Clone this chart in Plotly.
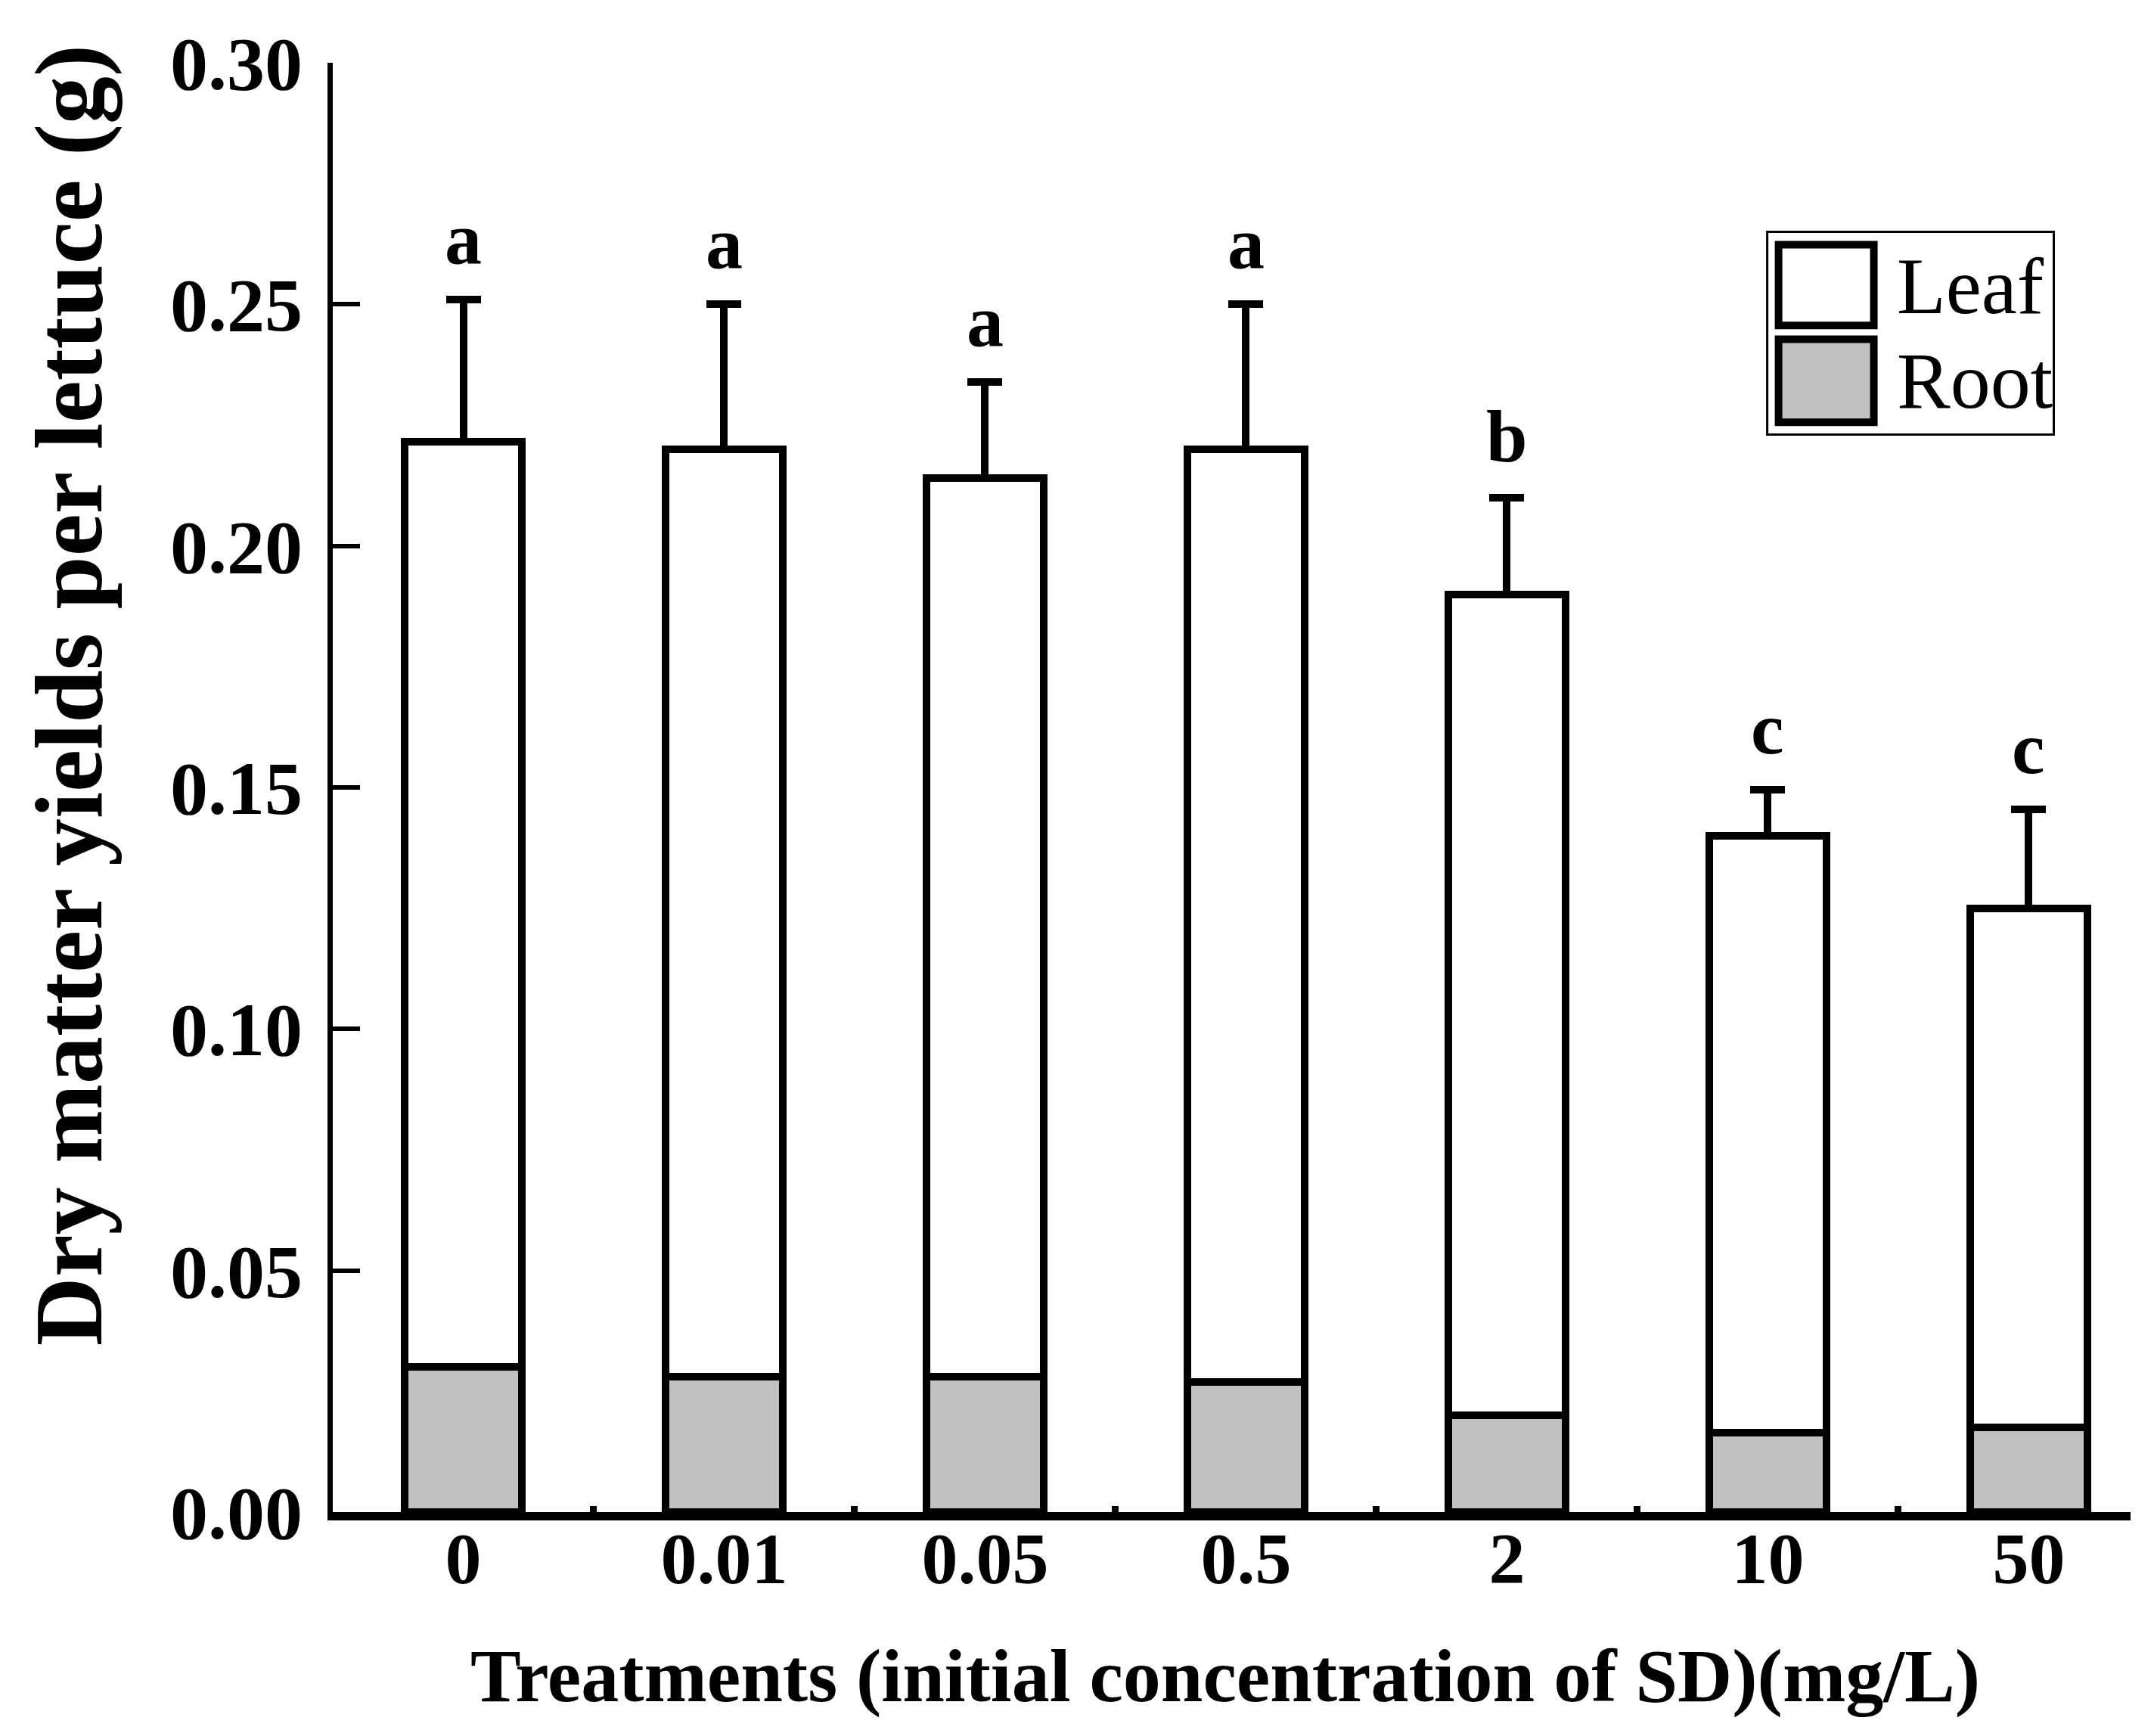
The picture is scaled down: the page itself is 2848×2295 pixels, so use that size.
import plotly.graph_objects as go

# treatments (initial SD concentration, mg/L)
categories = ["0", "0.01", "0.05", "0.5", "2", "10", "50"]
# dry matter per lettuce (g)
root = [0.030, 0.028, 0.028, 0.027, 0.020, 0.0165, 0.0175]
leaf = [0.1915, 0.192, 0.186, 0.193, 0.170, 0.1235, 0.1075]
leaf_err = [0.0295, 0.030, 0.020, 0.030, 0.020, 0.0095, 0.0205]
letters = ["a", "a", "a", "a", "b", "c", "c"]

serif = "Times New Roman, Liberation Serif, serif"

fig = go.Figure()

fig.add_trace(go.Bar(
    x=categories, y=root, name="Root",
    marker=dict(color="#c0c0c0", line=dict(color="black", width=10)),
    width=0.45, showlegend=False,
))
fig.add_trace(go.Bar(
    x=categories, y=leaf, name="Leaf",
    marker=dict(color="white", line=dict(color="black", width=10)),
    width=0.45, showlegend=False,
    error_y=dict(type="data", array=leaf_err, arrayminus=[0] * len(leaf),
                 symmetric=False, color="black", thickness=10, width=23),
))

# significance letters above the error bars
# (x given as category index, numeric-looking names would be read as numbers)
for i, (r, l, e, t) in enumerate(zip(root, leaf, leaf_err, letters)):
    fig.add_annotation(
        x=i, y=r + l + e, text=t, showarrow=False,
        yanchor="bottom", yshift=25,
        font=dict(family=serif, size=98, color="black", weight="bold"),
    )

# hand-made legend box (big square swatches like the original)
lx, ly = -0.0061, 0.0076
fig.add_shape(type="rect", xref="paper", yref="paper",
              x0=0.8040 + lx, x1=0.9634 + lx, y0=0.7359 + ly, y1=0.8758 + ly,
              line=dict(color="black", width=3), fillcolor="white")
fig.add_shape(type="rect", xref="paper", yref="paper",
              x0=0.8103 + lx, x1=0.8633 + lx, y0=0.8111 + ly, y1=0.8669 + ly,
              line=dict(color="black", width=10), fillcolor="white")
fig.add_shape(type="rect", xref="paper", yref="paper",
              x0=0.8103 + lx, x1=0.8633 + lx, y0=0.7443 + ly, y1=0.8017 + ly,
              line=dict(color="black", width=10), fillcolor="#c0c0c0")
for label, yy in [("Leaf", 0.8382), ("Root", 0.7730)]:
    fig.add_annotation(
        xref="paper", yref="paper", x=0.8751 + lx, y=yy + ly, text=label,
        showarrow=False, xanchor="left", yanchor="middle",
        font=dict(family=serif, size=106, color="black"),
    )

# axis titles
fig.add_annotation(
    xref="paper", yref="paper", x=-0.1464, y=0.5635,
    text="Dry matter yields per lettuce (g)", textangle=-90,
    showarrow=False, xanchor="center", yanchor="middle",
    font=dict(family=serif, size=126, color="black", weight="bold"),
)
fig.add_annotation(
    xref="paper", yref="paper", x=0.4963, y=-0.1128,
    text="Treatments (initial concentration of SD)(mg/L)",
    showarrow=False, xanchor="center", yanchor="middle",
    font=dict(family=serif, size=100, color="black", weight="bold"),
)

fig.update_layout(
    barmode="stack",
    width=2848, height=2295,
    margin=dict(l=432, r=39, t=75, b=304),
    plot_bgcolor="white", paper_bgcolor="white",
    xaxis=dict(
        type="category", range=[-0.5, 6.39],
        showline=True, linecolor="black", linewidth=11,
        ticks="inside", tickson="boundaries", ticklen=8, tickwidth=9,
        tickcolor="black", showgrid=False, zeroline=False,
        tickfont=dict(family=serif, size=96, color="black", weight="bold"),
        ticklabelstandoff=-32,
    ),
    yaxis=dict(
        range=[0, 0.30], tickvals=[0, 0.05, 0.10, 0.15, 0.20, 0.25, 0.30],
        tickformat=".2f",
        showline=True, linecolor="black", linewidth=7,
        ticks="inside", ticklen=36, tickwidth=6, tickcolor="black",
        showgrid=False, zeroline=False,
        tickfont=dict(family=serif, size=100, color="black", weight="bold"),
        ticklabelstandoff=13,
    ),
)

fig.write_html("out.html")
